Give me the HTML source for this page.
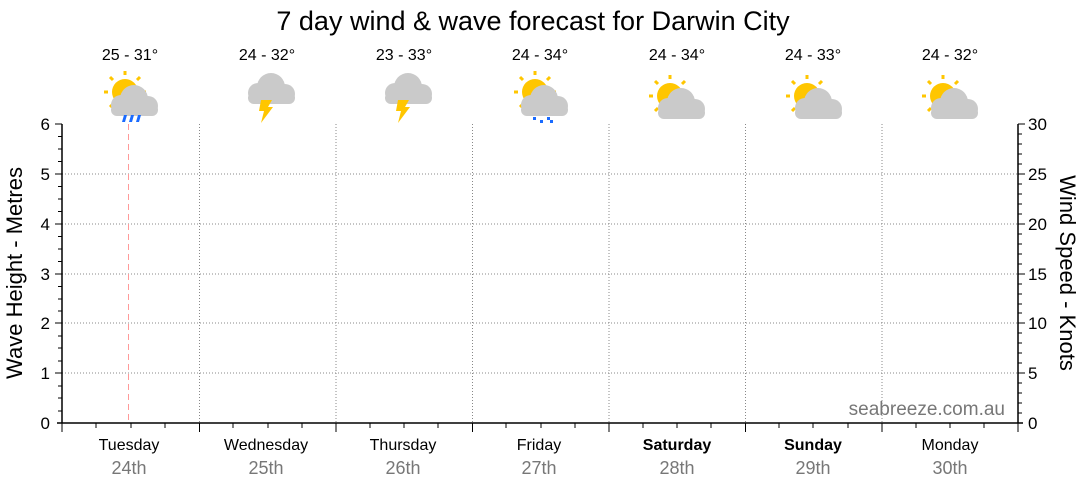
<!DOCTYPE html>
<html><head><meta charset="utf-8"><style>body{margin:0;background:#fff}svg{display:block}text{font-family:"Liberation Sans",Arial,sans-serif}</style></head><body>
<svg width="1080" height="490" viewBox="0 0 1080 490" xmlns="http://www.w3.org/2000/svg">
<defs>
<g id="sun"><circle cx="0" cy="0" r="13" fill="#ffc600"/>
<g stroke="#ffc600" stroke-width="3"><line x1="0" y1="-21" x2="0" y2="-17"/><line x1="15" y1="-15" x2="12" y2="-12"/><line x1="-15" y1="-15" x2="-12" y2="-12"/><line x1="-21" y1="0" x2="-17" y2="0"/><line x1="21" y1="0" x2="17" y2="0"/><line x1="-15" y1="15" x2="-12" y2="12"/></g></g>
<g id="cloud" fill="#cacaca"><circle cx="0" cy="0" r="14"/><circle cx="-13" cy="6" r="10"/><circle cx="14" cy="7" r="10"/><rect x="-23" y="5" width="47" height="12" rx="6"/></g>
<g id="bolt"><polygon points="-3,0 8,0 4,7 9,7 -3,23 0,11 -5,11" fill="#ffc600"/></g>
</defs>
<text x="533" y="30" font-size="27" text-anchor="middle">7 day wind &amp; wave forecast for Darwin City</text>
<g font-size="16" text-anchor="middle">
<text x="130" y="60">25 - 31°</text><text x="267" y="60">24 - 32°</text><text x="404" y="60">23 - 33°</text><text x="540" y="60">24 - 34°</text><text x="677" y="60">24 - 34°</text><text x="813" y="60">24 - 33°</text><text x="950" y="60">24 - 32°</text>
</g>
<use href="#sun" x="125" y="92"/><use href="#cloud" x="134" y="99"/>
<g fill="#1a6bff"><polygon points="124,115 127,115 125,122 122,122"/><polygon points="131,115 134,115 132,122 129,122"/><polygon points="138,115 141,115 139,122 136,122"/></g>
<use href="#cloud" x="271" y="87"/><use href="#bolt" x="264" y="100"/>
<use href="#cloud" x="408" y="87"/><use href="#bolt" x="401" y="100"/>
<use href="#sun" x="535" y="92"/><use href="#cloud" x="544" y="99"/>
<g fill="#1a6bff"><rect x="533" y="117" width="3" height="3"/><rect x="540" y="120" width="3" height="3"/><rect x="547" y="117" width="3" height="3"/><rect x="550" y="120" width="3" height="3"/></g>
<use href="#sun" x="670" y="96"/><use href="#cloud" x="681" y="102"/>
<use href="#sun" x="807" y="96"/><use href="#cloud" x="818" y="102"/>
<use href="#sun" x="943" y="96"/><use href="#cloud" x="954" y="102"/>
<g stroke="#888" stroke-width="1" stroke-dasharray="1,2">
<line x1="62" y1="174" x2="1018" y2="174"/><line x1="62" y1="224" x2="1018" y2="224"/><line x1="62" y1="274" x2="1018" y2="274"/><line x1="62" y1="323" x2="1018" y2="323"/><line x1="62" y1="373" x2="1018" y2="373"/>
<line x1="199.5" y1="124" x2="199.5" y2="423"/><line x1="336" y1="124" x2="336" y2="423"/><line x1="472.5" y1="124" x2="472.5" y2="423"/><line x1="609" y1="124" x2="609" y2="423"/><line x1="745.5" y1="124" x2="745.5" y2="423"/><line x1="882" y1="124" x2="882" y2="423"/>
</g>
<line x1="128.5" y1="124" x2="128.5" y2="423" stroke="#f99" stroke-dasharray="6,4"/>
<g stroke="#000" stroke-width="1.5"><line x1="62" y1="124" x2="62" y2="423"/><line x1="1018" y1="124" x2="1018" y2="423"/><line x1="57" y1="423" x2="1023" y2="423"/></g>
<g stroke="#000" stroke-width="1">
<path d="M55 124H62M55 174H62M55 224H62M55 274H62M55 323H62M55 373H62M58 149H62M58 199H62M58 249H62M58 299H62M58 348H62M58 398H62M58 136.5H62M58 161.5H62M58 186.5H62M58 211.5H62M58 236.5H62M58 261.5H62M58 286.5H62M58 311H62M58 336H62M58 361H62M58 386H62M58 411H62"/>
<path d="M1018 124H1025M1018 174H1025M1018 224H1025M1018 274H1025M1018 323H1025M1018 373H1025"/>
<path d="M1018 134H1022M1018 144H1022M1018 154H1022M1018 164H1022M1018 184H1022M1018 194H1022M1018 204H1022M1018 214H1022M1018 234H1022M1018 244H1022M1018 254H1022M1018 264H1022M1018 284H1022M1018 294H1022M1018 304H1022M1018 313H1022M1018 333H1022M1018 343H1022M1018 353H1022M1018 363H1022M1018 383H1022M1018 393H1022M1018 403H1022M1018 413H1022"/>
<path d="M62 423V432M199.5 423V432M336 423V432M472.5 423V432M609 423V432M745.5 423V432M882 423V432M1018 423V432"/>
<path d="M96 423V428M131 423V428M165 423V428M233 423V428M268 423V428M302 423V428M370 423V428M404 423V428M438 423V428M506 423V428M541 423V428M575 423V428M643 423V428M677 423V428M711 423V428M779 423V428M813 423V428M848 423V428M916 423V428M950 423V428M984 423V428"/>
</g>
<g font-size="17" text-anchor="end">
<text x="50" y="130">6</text><text x="50" y="180">5</text><text x="50" y="230">4</text><text x="50" y="280">3</text><text x="50" y="329">2</text><text x="50" y="379">1</text><text x="50" y="429">0</text>
</g>
<g font-size="17">
<text x="1028" y="130">30</text><text x="1028" y="180">25</text><text x="1028" y="230">20</text><text x="1028" y="280">15</text><text x="1028" y="329">10</text><text x="1028" y="379">5</text><text x="1028" y="429">0</text>
</g>
<text transform="translate(22,273) rotate(-90)" font-size="22" text-anchor="middle">Wave Height - Metres</text>
<text transform="translate(1060,273) rotate(90)" font-size="22" text-anchor="middle">Wind Speed - Knots</text>
<text x="1005" y="415" font-size="19" fill="#777" text-anchor="end">seabreeze.com.au</text>
<g font-size="16" text-anchor="middle">
<text x="129" y="450">Tuesday</text><text x="266" y="450">Wednesday</text><text x="403" y="450">Thursday</text><text x="539" y="450">Friday</text><text x="677" y="450" font-weight="bold">Saturday</text><text x="813" y="450" font-weight="bold">Sunday</text><text x="950" y="450">Monday</text>
</g>
<g font-size="18" fill="#777" text-anchor="middle">
<text x="129" y="474">24th</text><text x="266" y="474">25th</text><text x="403" y="474">26th</text><text x="539" y="474">27th</text><text x="677" y="474">28th</text><text x="813" y="474">29th</text><text x="950" y="474">30th</text>
</g>
</svg>
</body></html>
